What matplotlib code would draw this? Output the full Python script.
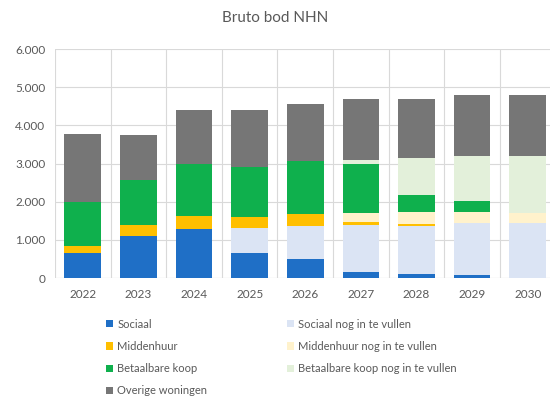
import numpy as np
import matplotlib
matplotlib.use("Agg")
import matplotlib.pyplot as plt
from matplotlib.ticker import FuncFormatter

plt.rcParams['font.family'] = ['Lato', 'DejaVu Sans']

years = ["2022", "2023", "2024", "2025", "2026", "2027", "2028", "2029", "2030"]

# stacked from bottom to top
sociaal = [650, 1110, 1290, 650, 510, 160, 100, 70, 0]
sociaal_nog = [0, 0, 0, 650, 860, 1220, 1270, 1370, 1440]
middenhuur = [200, 280, 340, 300, 310, 100, 60, 0, 0]
middenhuur_nog = [0, 0, 0, 0, 0, 220, 290, 300, 260]
betaalbaar = [1150, 1180, 1350, 1310, 1380, 1290, 450, 290, 0]
betaalbaar_nog = [0, 0, 0, 0, 0, 110, 980, 1170, 1500]
overige = [1770, 1190, 1420, 1490, 1500, 1600, 1550, 1600, 1600]

series = [
    ("Sociaal", sociaal, "#1f6fc6"),
    ("Sociaal nog in te vullen", sociaal_nog, "#dbe4f4"),
    ("Middenhuur", middenhuur, "#ffbf00"),
    ("Middenhuur nog in te vullen", middenhuur_nog, "#fff2cc"),
    ("Betaalbare koop", betaalbaar, "#0fb04d"),
    ("Betaalbare koop nog in te vullen", betaalbaar_nog, "#e3f0da"),
    ("Overige woningen", overige, "#767676"),
]

fig = plt.figure(figsize=(5.5, 4.03), dpi=100)
ax = fig.add_axes([0.1, 0.31, 0.91, 0.568])

x = np.arange(len(years))
bottom = np.zeros(len(years))
handles = {}
for label, vals, color in series:
    vals = np.array(vals, dtype=float)
    bars = ax.bar(x, vals, bottom=bottom, width=0.66, color=color, label=label, zorder=3)
    handles[label] = bars
    bottom += vals

ax.set_ylim(0, 6000)
ax.set_xlim(-0.5, len(years) - 0.5)
ax.set_yticks(np.arange(0, 6001, 1000))
ax.yaxis.set_major_formatter(FuncFormatter(lambda v, p: f"{int(v):,}".replace(",", ".")))
ax.set_xticks(x)
ax.set_xticklabels(years)
ax.set_xticks(np.arange(-0.5, len(years)), minor=True)
ax.grid(axis='y', which='major', color='#d9d9d9', lw=0.8, zorder=0)
ax.grid(axis='x', which='minor', color='#d9d9d9', lw=0.8, zorder=0)
ax.tick_params(which='both', length=0, labelsize=8.5, colors='#595959')
ax.tick_params(axis='x', pad=8)
ax.tick_params(axis='y', pad=7)
for s in ax.spines.values():
    s.set_visible(False)
ax.axhline(0, color='#d9d9d9', lw=0.8, zorder=2)

fig.text(0.5, 0.955, "Bruto bod NHN", ha='center', va='center', fontsize=11, color='#595959')

order = ["Sociaal", "Middenhuur", "Betaalbare koop", "Overige woningen",
         "Sociaal nog in te vullen", "Middenhuur nog in te vullen",
         "Betaalbare koop nog in te vullen"]
leg = fig.legend([handles[k] for k in order], order, ncol=2, loc='upper left',
                 bbox_to_anchor=(0.185, 0.22), frameon=False, fontsize=8,
                 handlelength=0.6, handleheight=0.6, handletextpad=0.4,
                 labelspacing=1.0, columnspacing=7.2, borderaxespad=0)
for t in leg.get_texts():
    t.set_color('#595959')

fig.savefig("out.png", dpi=100)
